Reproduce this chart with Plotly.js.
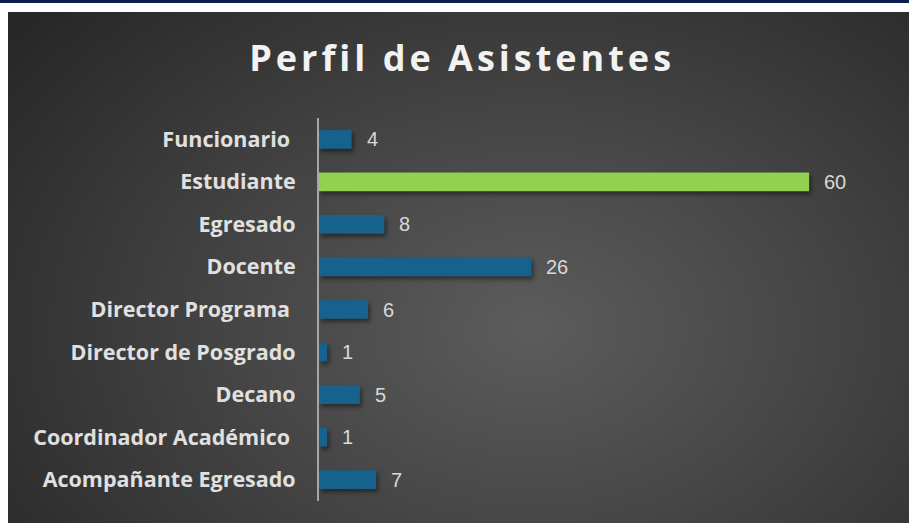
<!DOCTYPE html>
<html>
<head>
<meta charset="utf-8">
<script src="https://cdn.plot.ly/plotly-3.0.1.min.js"></script>
<style>
  html, body { margin: 0; padding: 0; background: #ffffff; width: 909px; height: 523px; overflow: hidden; }
  #topline { position: absolute; left: 0; top: 0; width: 909px; height: 3px; background: #0b1f4f; }
  #chart {
    position: absolute; left: 8px; top: 12px; width: 901px; height: 511px;
    background: radial-gradient(ellipse 75% 95% at 58% 62%, #5c5c5c 0%, #474747 40%, #2e2e2e 85%, #262626 100%);
  }
  #chart .gtitle { letter-spacing: 4px; }
  #chart .bars path { filter: drop-shadow(2px 3px 2px rgba(0,0,0,0.45)); }
</style>
</head>
<body>
<div id="topline"></div>
<div id="chart"></div>
<script>
const categories = ["Funcionario\u00a0", "Estudiante", "Egresado", "Docente", "Director Programa\u00a0",
                    "Director de Posgrado", "Decano", "Coordinador Académico\u00a0", "Acompañante Egresado"];
const values = [4, 60, 8, 26, 6, 1, 5, 1, 7];
const highlight = "Estudiante";

const colors = categories.map(c => c === highlight ? "#92d050" : "#17628c");

const trace = {
  type: "bar",
  orientation: "h",
  y: categories,
  x: values,
  marker: { color: colors, line: { width: 0 } },
  hoverinfo: "none",
  showlegend: false
};

const annotations = categories.map((c, i) => ({
  x: values[i], y: c, xref: "x", yref: "y",
  text: String(values[i]), showarrow: false,
  xanchor: "left", yanchor: "middle", xshift: 13,
  font: { family: "Liberation Sans, Arial, sans-serif", size: 20, color: "#d9d9d9" }
}));

const layout = {
  width: 901, height: 511,
  paper_bgcolor: "rgba(0,0,0,0)",
  plot_bgcolor: "rgba(0,0,0,0)",
  margin: { l: 311, r: 10, t: 106, b: 22 },
  title: {
    text: "<b>Perfil de Asistentes</b>",
    x: 0.504, xanchor: "center", y: 0.91, yanchor: "middle",
    font: { family: "Open Sans, sans-serif", size: 36, color: "#f2f2f2" }
  },
  bargap: 0.56,
  xaxis: {
    range: [0, 71], showgrid: false, zeroline: false, showticklabels: false,
    showline: false, ticks: ""
  },
  yaxis: {
    autorange: "reversed", type: "category",
    showgrid: false, zeroline: false, showline: true,
    linecolor: "#a6a6a6", linewidth: 2, ticks: "",
    ticklabelstandoff: 17,
    tickfont: { family: "Open Sans, sans-serif", size: 21.5, color: "#e0e0e0", weight: "bold" }
  },
  annotations: annotations
};

Plotly.newPlot("chart", [trace], layout, { displayModeBar: false, staticPlot: true });
</script>
</body>
</html>
